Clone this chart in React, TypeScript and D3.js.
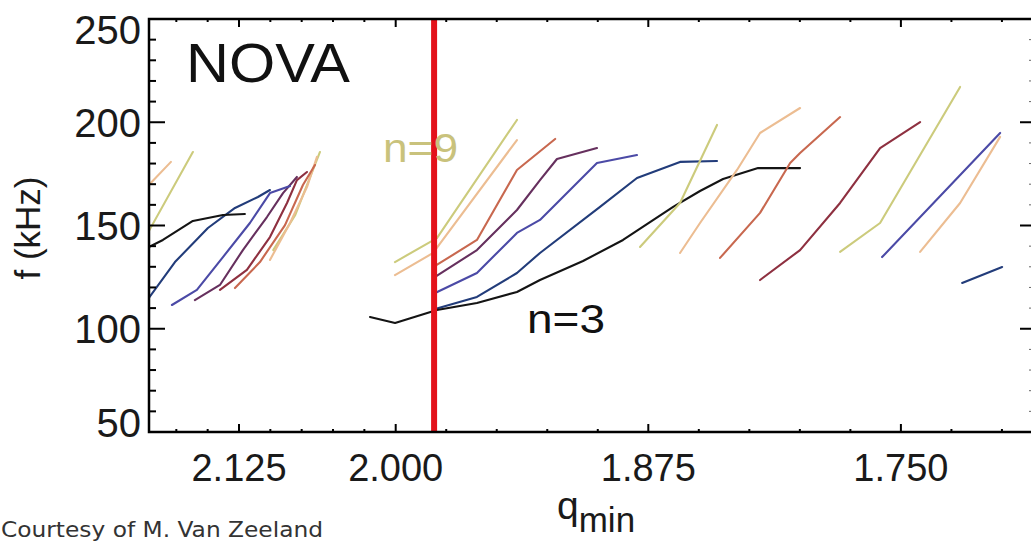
import React from "react";
import * as d3 from "d3";

// Axis ticks: q_min decreases to the right, frequency in kHz
const qMajorTicks = [2.125, 2.0, 1.875, 1.75];
const qMinorStep = 0.025;
const fMajorTicks = [50, 100, 150, 200, 250];
const fMinorStep = 10;
// q_min marked by the vertical red line
const qMarker = 1.981;

// Mode frequency traces as [q_min, f (kHz)] pairs
const n3Left: [number, number][] = [[2.1969, 139.6], [2.1857, 143.0], [2.1618, 152.2], [2.1378, 155.1], [2.1203, 155.6]];
const n4Left: [number, number][] = [[2.1969, 114.9], [2.1761, 132.3], [2.1498, 148.8], [2.1282, 158.5], [2.1099, 163.8], [2.1003, 167.2]];
const n5Left: [number, number][] = [[2.1785, 111.5], [2.1586, 118.8], [2.1378, 134.7], [2.1163, 151.2], [2.1003, 165.7], [2.0843, 169.1]];
const n6Left: [number, number][] = [[2.1602, 113.9], [2.1402, 121.2], [2.1219, 138.1], [2.1027, 154.1], [2.0899, 165.7], [2.0788, 173.5]];
const n7Left: [number, number][] = [[2.1402, 118.8], [2.1187, 128.5], [2.1003, 144.4], [2.0867, 160.9], [2.0788, 172.0], [2.0708, 175.9]];
const n8Left: [number, number][] = [[2.1282, 119.7], [2.1083, 132.3], [2.0883, 150.2], [2.074, 169.6], [2.0644, 179.3]];
const n9Left: [number, number][] = [[2.1003, 133.3], [2.0843, 151.2], [2.0708, 168.6], [2.0628, 183.2]];
const n10Left: [number, number][] = [[2.0977, 138.1], [2.0801, 155.1], [2.0604, 185.6]];
const n10FarLeft: [number, number][] = [[2.1969, 147.3], [2.1618, 185.6]];
const n9FarLeft: [number, number][] = [[2.1969, 169.6], [2.1793, 180.8]];

const n3Mid: [number, number][] = [[2.0205, 105.7], [2.0005, 102.8], [1.9796, 109.1], [1.9598, 112.5], [1.94, 117.8], [1.9286, 123.6], [1.9073, 132.8], [1.8875, 143.0], [1.8627, 159.0], [1.8494, 166.7], [1.838, 172.5], [1.8207, 177.8], [1.7999, 177.8]];
const n4Mid: [number, number][] = [[1.9805, 109.6], [1.9598, 115.4], [1.94, 127.0], [1.9286, 136.7], [1.8989, 159.0], [1.8806, 173.0], [1.8593, 180.8], [1.841, 181.2]];
const n5Mid: [number, number][] = [[1.9805, 117.3], [1.9598, 127.0], [1.94, 146.4], [1.9286, 152.7], [1.9187, 162.3], [1.9004, 180.3], [1.8806, 184.1]];
const n6Mid: [number, number][] = [[1.9805, 125.1], [1.9598, 138.1], [1.94, 157.5], [1.9286, 172.0], [1.9202, 182.2], [1.9004, 187.5]];
const n7Mid: [number, number][] = [[1.9805, 130.4], [1.9598, 143.0], [1.94, 176.9], [1.9211, 191.9]];
const n8Mid: [number, number][] = [[2.0006, 126.0], [1.9815, 136.7], [1.94, 191.4]];
const n9Mid: [number, number][] = [[2.0006, 132.3], [1.9796, 143.9], [1.94, 201.1]];

const n10Right: [number, number][] = [[1.8791, 139.6], [1.8593, 160.9], [1.841, 198.7]];
const n9Right: [number, number][] = [[1.8593, 136.7], [1.8494, 151.2], [1.8311, 176.9], [1.8197, 194.8], [1.7999, 206.9]];
const n8Right: [number, number][] = [[1.8395, 134.3], [1.8197, 156.1], [1.8048, 180.3], [1.7999, 185.1], [1.7801, 202.5]];
const n7Right: [number, number][] = [[1.8197, 123.6], [1.7999, 138.1], [1.7801, 160.9], [1.7603, 187.5], [1.7405, 200.1]];
const n10FarRight: [number, number][] = [[1.7801, 137.2], [1.7603, 151.2], [1.7207, 217.1]];
const n5FarRight: [number, number][] = [[1.7593, 134.7], [1.7009, 194.8]];
const n9FarRight: [number, number][] = [[1.7405, 137.2], [1.7207, 160.9], [1.7009, 192.9]];
const n4FarRight: [number, number][] = [[1.7197, 122.2], [1.6999, 129.9]];

const traces: { points: [number, number][]; mode: string }[] = [
  { points: n10FarLeft, mode: "n10" },
  { points: n9FarLeft, mode: "n9" },
  { points: n10Left, mode: "n10" },
  { points: n9Left, mode: "n9" },
  { points: n8Left, mode: "n8" },
  { points: n7Left, mode: "n7" },
  { points: n6Left, mode: "n6" },
  { points: n5Left, mode: "n5" },
  { points: n4Left, mode: "n4" },
  { points: n3Left, mode: "n3" },
  { points: n9Mid, mode: "n10" },
  { points: n8Mid, mode: "n9" },
  { points: n7Mid, mode: "n8" },
  { points: n6Mid, mode: "n6" },
  { points: n5Mid, mode: "n5" },
  { points: n4Mid, mode: "n4" },
  { points: n3Mid, mode: "n3" },
  { points: n10Right, mode: "n10" },
  { points: n9Right, mode: "n9" },
  { points: n8Right, mode: "n8" },
  { points: n7Right, mode: "n7" },
  { points: n10FarRight, mode: "n10" },
  { points: n5FarRight, mode: "n5" },
  { points: n9FarRight, mode: "n9" },
  { points: n4FarRight, mode: "n4" },
];

const modeColor: Record<string, string> = {
  n3: "#141414",
  n4: "#223c7a",
  n5: "#4b4aa6",
  n6: "#66305e",
  n7: "#8e3040",
  n8: "#c8684f",
  n9: "#ecbd92",
  n10: "#cccb7c",
};

const W = 1031;
const H = 543;
const left = 149;
const right = 1036;
const top = 19;
const bottom = 432;

export default function App() {
  // Piecewise q_min axis: the spacing per 0.025 changes at q = 2.000
  const x = d3.scaleLinear().domain([2.125, 2.0, 1.75]).range([239, 395.7, 900.9]);
  const y = d3.scaleLinear().domain([50, 250]).range([bottom, top]);

  const qMinor = d3
    .range(0, 40)
    .map((i) => Math.round((2.3 - i * qMinorStep) * 1000) / 1000)
    .filter((q) => x(q) > left + 1 && x(q) < right - 1)
    .filter((q) => !qMajorTicks.some((m) => Math.abs(m - q) < 1e-6));
  const fMinor = d3
    .range(50, 251, fMinorStep)
    .filter((f) => !fMajorTicks.includes(f));

  const line = d3
    .line<[number, number]>()
    .x((d) => x(d[0]))
    .y((d) => y(d[1]));

  const fmtQ = d3.format(".3f");
  const majLenX = 16;
  const minLenX = 7;
  const majLenY = 8;
  const minLenY = 3;
  const font = "'Liberation Sans', Arial, Helvetica, sans-serif";

  return (
    <svg
      width={W}
      height={H}
      viewBox={`0 0 ${W} ${H}`}
      style={{ position: "absolute", left: 0, top: 0, background: "#fff" }}
      fontFamily={font}
    >
      <defs>
        <clipPath id="plotArea">
          <rect x={left} y={top} width={right - left} height={bottom - top} />
        </clipPath>
      </defs>

      <g clipPath="url(#plotArea)" fill="none" strokeWidth={2.1} strokeLinejoin="round" strokeLinecap="round">
        {traces.map((t, i) => (
          <path key={i} d={line(t.points) ?? ""} stroke={modeColor[t.mode]} />
        ))}
      </g>

      {/* vertical marker at the chosen q_min */}
      <line x1={x(qMarker)} x2={x(qMarker)} y1={top} y2={bottom} stroke="#e3121b" strokeWidth={6} />

      {/* frame */}
      <g stroke="#000" strokeWidth={2.5} fill="none">
        <path d={`M${right},${top}H${left}V${bottom}H${right}`} />
        <line x1={right} x2={right} y1={top} y2={bottom} />
      </g>

      {/* left and right ticks */}
      <g stroke="#000" strokeWidth={2}>
        {fMajorTicks.map((f) => (
          <g key={`fm${f}`}>
            <line x1={left} x2={left + majLenX} y1={y(f)} y2={y(f)} />
            <line x1={right} x2={right - majLenX} y1={y(f)} y2={y(f)} />
          </g>
        ))}
        {fMinor.map((f) => (
          <g key={`fn${f}`}>
            <line x1={left} x2={left + minLenX} y1={y(f)} y2={y(f)} />
            <line x1={right} x2={right - minLenX} y1={y(f)} y2={y(f)} strokeWidth={1} stroke="#666" />
          </g>
        ))}
      </g>

      {/* bottom and top ticks */}
      <g stroke="#000" strokeWidth={2}>
        {qMajorTicks.map((q) => (
          <g key={`qm${q}`}>
            <line x1={x(q)} x2={x(q)} y1={bottom} y2={bottom - majLenY} />
            <line x1={x(q)} x2={x(q)} y1={top} y2={top + majLenY} />
          </g>
        ))}
        {qMinor.map((q) => (
          <g key={`qn${q}`}>
            <line x1={x(q)} x2={x(q)} y1={bottom} y2={bottom - minLenY} />
            <line x1={x(q)} x2={x(q)} y1={top} y2={top + minLenY} />
          </g>
        ))}
      </g>

      {/* y tick labels */}
      <g fontSize={40} textAnchor="end" fill="#1a1a1a">
        {fMajorTicks.map((f) => (
          <text key={`fl${f}`} x={141} y={Math.min(Math.max(y(f), top + 11), bottom - 9)} dy="0.36em">
            {f}
          </text>
        ))}
      </g>

      {/* x tick labels */}
      <g fontSize={38} textAnchor="middle" fill="#1a1a1a">
        {qMajorTicks.map((q) => (
          <text key={`ql${q}`} x={x(q)} y={481}>
            {fmtQ(q)}
          </text>
        ))}
      </g>

      {/* axis titles */}
      <text transform="translate(40,228) rotate(-90)" textAnchor="middle" fontSize={35} fill="#1a1a1a">
        f (kHz)
      </text>
      <text x={557} y={519} fontSize={39} fill="#1a1a1a">
        q
        <tspan dy={13} fontSize={35}>min</tspan>
      </text>

      {/* annotations */}
      <text x={186} y={82} fontSize={56} fill="#111" textLength={164} lengthAdjust="spacingAndGlyphs">NOVA</text>
      <text x={383} y={162} fontSize={40} fill="#c9c27c" textLength={75} lengthAdjust="spacingAndGlyphs">n=9</text>
      <text x={527} y={333} fontSize={40} fill="#111" textLength={78} lengthAdjust="spacingAndGlyphs">n=3</text>
      <text x={1} y={537} fontSize={22} fill="#333" fontFamily="'DejaVu Sans', sans-serif" textLength={322} lengthAdjust="spacingAndGlyphs">
        Courtesy of M. Van Zeeland
      </text>
    </svg>
  );
}
